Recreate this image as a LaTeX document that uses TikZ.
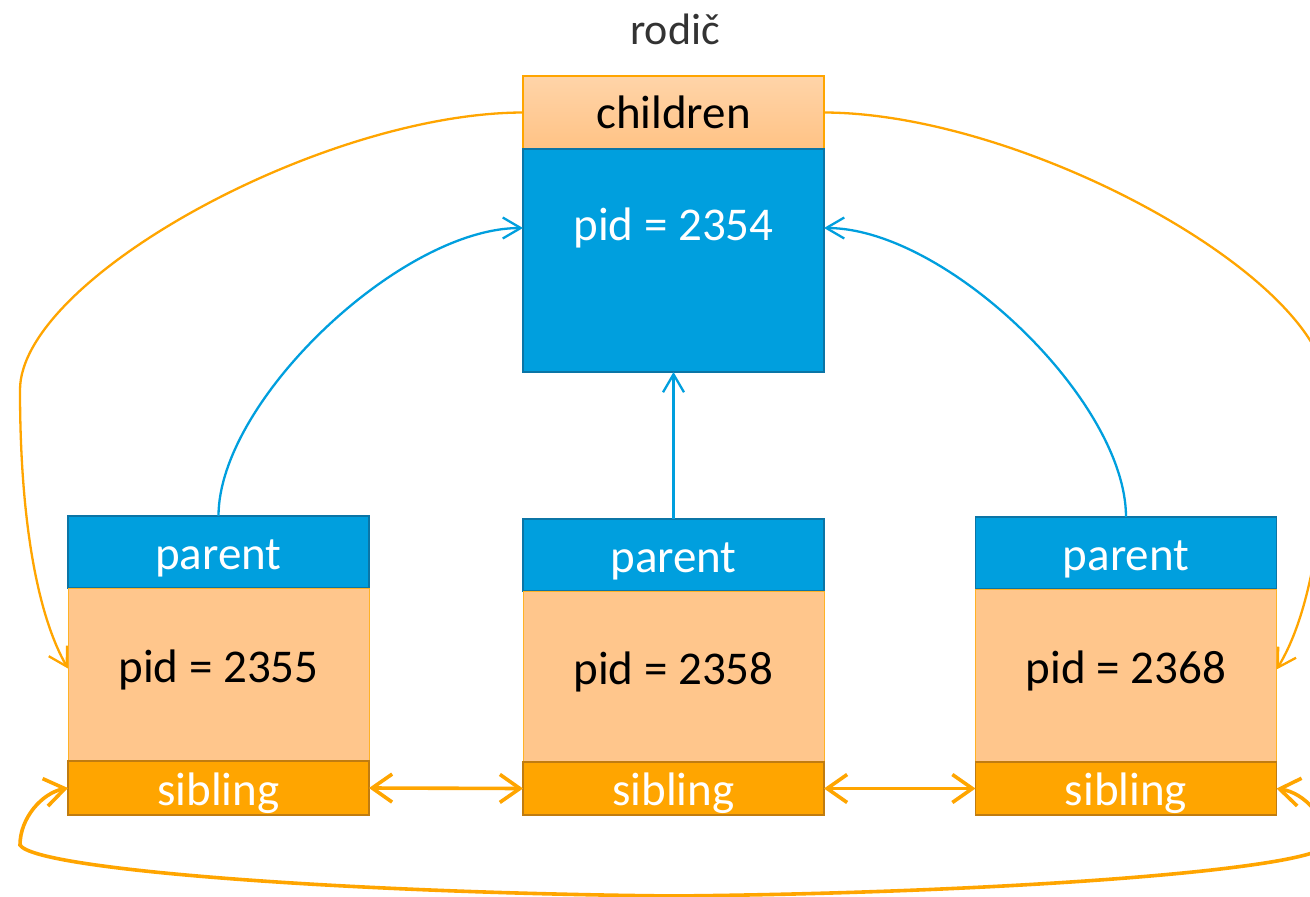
\documentclass[tikz,border=0pt]{standalone}
\usepackage{fontspec}
\setmainfont{Carlito}
\usetikzlibrary{arrows.meta}
\definecolor{cblue}{HTML}{009FDE}
\definecolor{cblueD}{HTML}{0B75A6}
\definecolor{corange}{HTML}{FFA500}
\definecolor{clight}{HTML}{FFC68C}
\definecolor{csibD}{HTML}{C07C10}
\definecolor{ctext}{HTML}{333333}
\begin{document}
\begin{tikzpicture}[x=1pt,y=-1pt,
  box/.style={minimum width=301pt, inner sep=0pt, outer sep=0pt, font=\fontsize{47}{56}\selectfont},
  hdr/.style={box, fill=cblue, draw=cblueD, line width=1.8pt, text=white, text height=34pt, text depth=0pt},
  bodyb/.style={box, fill=clight, draw=corange!85, line width=1pt, text=black, text height=28pt, text depth=12pt},
  sib/.style={box, fill=corange, draw=csibD, line width=1.8pt, text=white, minimum height=53pt, text height=34pt, text depth=0pt},
  bluecon/.style={draw=cblue, line width=2.3pt},
  thincon/.style={draw=corange, line width=2.3pt},
  thickcon/.style={draw=corange, line width=3.6pt},
  btip/.style={-{Straight Barb[length=18pt,width=21pt]}},
  otip/.style={{Straight Barb[length=20pt,width=28pt]}-{Straight Barb[length=20pt,width=28pt]}}
]
\useasboundingbox (0,0) rectangle (1310,897);
\fill[white] (0,0) rectangle (1310,897);

% title
\node[font=\fontsize{44}{52}\selectfont, text=ctext] (title) at (675,29) {rodič};

% parent process
\node[box, top color=clight!75!white, bottom color=clight!95!orange, draw=corange, line width=1.4pt, minimum height=73pt] (ch) at (673.5,112.5) {children};
\node[box, fill=cblue, draw=cblueD, line width=1.8pt, minimum height=223pt] (pb) at (673.5,260.5) {};
\node[font=\fontsize{47}{56}\selectfont, text=white, inner sep=0pt] (pt) at (673.5,228) {pid = 2354};

% children
\node[hdr, minimum height=72pt] (lh) at (218.5,552) {parent};
\node[bodyb, minimum height=173pt] (lb) at (218.5,674.5) {pid = 2355};
\node[sib, minimum height=54pt] (ls) at (218.5,788) {sibling};

\node[hdr, minimum height=72pt] (mh) at (673.5,555) {parent};
\node[bodyb, minimum height=171pt] (mb) at (673.5,676.5) {pid = 2358};
\node[sib] (ms) at (673.5,788.5) {sibling};

\node[hdr, minimum height=72pt] (rh) at (1126,553) {parent};
\node[bodyb, minimum height=173pt] (rb) at (1126,675.5) {pid = 2368};
\node[sib] (rs) at (1126,788.5) {sibling};

\coordinate (pl) at (pb.west |- pt.center);
\coordinate (pr) at (pb.east |- pt.center);

% parent pointers
\draw[bluecon, btip] (lh.north) .. controls (218.5,401) and (401,228) .. (pl);
\draw[bluecon, btip] (mh.north) -- (pb.south);
\draw[bluecon, btip] (rh.north) .. controls (1126,401) and (946,228) .. (pr);

% children pointers
\draw[thincon, btip] (ch.west) .. controls (322,113) and (20,279) .. (20,390)
   .. controls (20,530) and (40,620) .. ([yshift=6pt]lb.west);
\draw[thincon, btip] (ch.east) .. controls (1025,113) and (1327,279) .. (1327,390)
   .. controls (1327,530) and (1307,620) .. ([yshift=6pt]rb.east);

% sibling list
\draw[thickcon, otip] (ls.east) -- (ms.west);
\draw[thickcon, otip] (ms.east) -- (rs.west);
\draw[thickcon, otip] (ls.west) .. controls (42,793) and (20,818) .. (20,845)
   .. controls (35,870) and (350,893) .. (674,896)
   .. controls (998,893) and (1312,870) .. (1327,845)
   .. controls (1327,818) and (1305,793) .. (rs.east);
\end{tikzpicture}
\end{document}
